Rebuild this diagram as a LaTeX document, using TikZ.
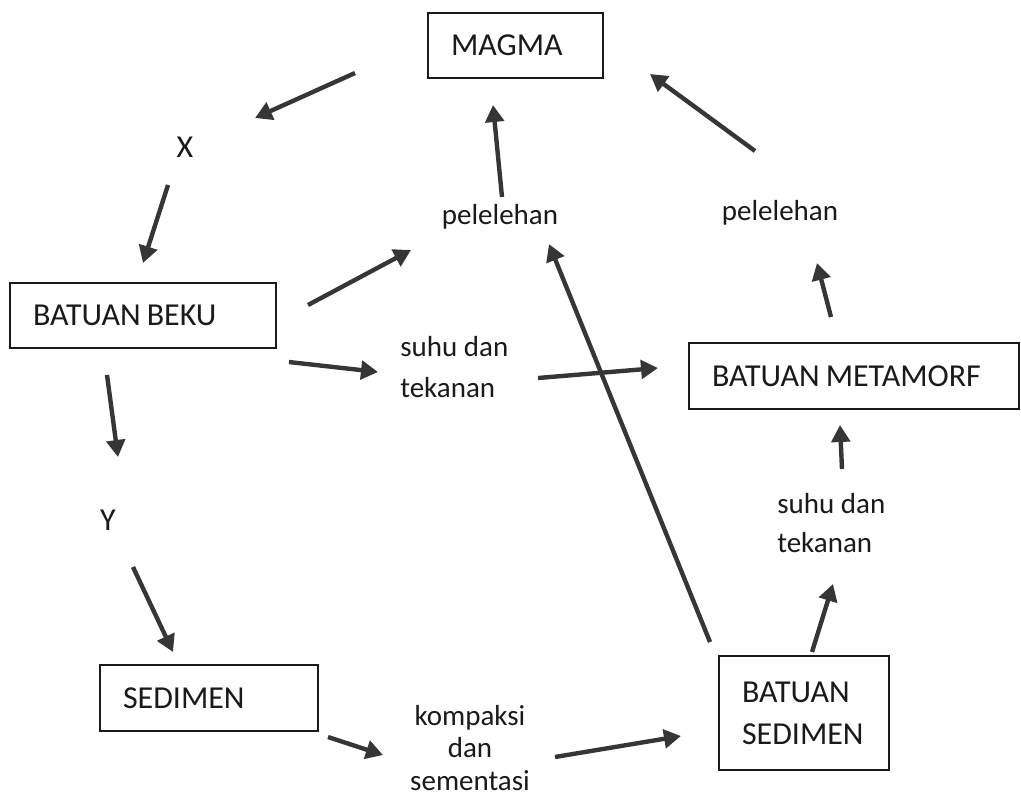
\documentclass[tikz,border=0pt]{standalone}
\usepackage{fontspec}
\setmainfont{Carlito}
\usepackage{xcolor}
\usepackage{tikz}
\usetikzlibrary{arrows.meta}

\definecolor{inkblack}{HTML}{1A1A1A}
\definecolor{arrowgray}{HTML}{363636}

\tikzset{
  box/.style={draw=inkblack,line width=1.1pt,text=inkblack,font=\fontsize{18.2}{23.8}\selectfont,align=left,inner xsep=0.46cm,inner ysep=0pt},
  lbl/.style={text=inkblack,inner sep=0pt},
  arr/.style={-{Triangle[length=0.34cm,width=0.37cm]},line width=2.5pt,arrowgray},
}
\newcommand{\gap}{\hspace{0.19em}}

\begin{document}
\begin{tikzpicture}[x=0.02cm,y=-0.02cm]
\useasboundingbox (0,0) rectangle (1021,799);
\fill[white] (0,0) rectangle (1021,799);

% Boxes
\node[box,minimum width=3.5cm,minimum height=1.3cm,text width=2.58cm] (magma) at (515.5,45.5) {MAGMA};
\node[box,minimum width=5.32cm,minimum height=1.3cm,text width=4.4cm] (beku) at (143,315.5) {BATUAN\gap BEKU};
\node[box,minimum width=6.6cm,minimum height=1.32cm,text width=5.68cm] (metamorf) at (854,376) {BATUAN\gap METAMORF};
\node[box,minimum width=4.36cm,minimum height=1.32cm,text width=3.44cm] (sedimen) at (209,698) {SEDIMEN};
\node[box,minimum width=3.4cm,minimum height=2.28cm,text width=2.48cm] (batsed) at (804,713) {BATUAN\\SEDIMEN};

% Labels
\node[lbl,font=\fontsize{18.2}{23.8}\selectfont] (x) at (185,147) {X};
\node[lbl,font=\fontsize{18.2}{23.8}\selectfont] (y) at (108,520) {Y};
\node[lbl,font=\fontsize{16.5}{20}\selectfont,anchor=base] (pelmid) at (500,224) {pelelehan};
\node[lbl,font=\fontsize{16.5}{20}\selectfont,anchor=base] (pelright) at (780,220) {pelelehan};
\node[lbl,font=\fontsize{16.5}{23.8}\selectfont,align=left,anchor=west] (suhumid) at (400,367) {suhu dan\\tekanan};
\node[lbl,font=\fontsize{16.5}{22.7}\selectfont,align=left,anchor=west] (suhuright) at (777,523) {suhu dan\\tekanan};
\node[lbl,font=\fontsize{16.5}{18.7}\selectfont,align=center] (kompaksi) at (470,748) {kompaksi\\dan\\sementasi};

% Arrow ends
\coordinate (magma-x) at (355,73);      \coordinate (x-in) at (255,118);
\coordinate (x-out) at (168,185);       \coordinate (beku-in) at (143,263);
\coordinate (beku-y) at (107,375);      \coordinate (y-in) at (118,457);
\coordinate (y-out) at (133,567);       \coordinate (sedimen-in) at (173,652);
\coordinate (sedimen-out) at (328,737); \coordinate (kompaksi-in) at (383,755);
\coordinate (kompaksi-out) at (555,757); \coordinate (batsed-in) at (681,736);
\coordinate (beku-pel) at (308,305);    \coordinate (pelmid-in) at (411,250);
\coordinate (pelmid-out) at (502,197);  \coordinate (magma-in1) at (493,105);
\coordinate (beku-suhu) at (289,362);   \coordinate (suhumid-in) at (378,372);
\coordinate (suhumid-out) at (538,378); \coordinate (metamorf-in1) at (658,368);
\coordinate (batsed-mag) at (710,642);  \coordinate (magma-in2) at (549,244);
\coordinate (batsed-suhu) at (812,652); \coordinate (suhuright-in) at (833,584);
\coordinate (suhuright-out) at (842,469); \coordinate (metamorf-in2) at (840,425);
\coordinate (metamorf-out) at (831,317); \coordinate (pelright-in) at (817,263);
\coordinate (pelright-out) at (755,151); \coordinate (magma-in3) at (650,74);

% Arrows
\draw[arr] (magma-x) -- (x-in);
\draw[arr] (x-out) -- (beku-in);
\draw[arr] (beku-y) -- (y-in);
\draw[arr] (y-out) -- (sedimen-in);
\draw[arr] (sedimen-out) -- (kompaksi-in);
\draw[arr] (kompaksi-out) -- (batsed-in);
\draw[arr] (beku-pel) -- (pelmid-in);
\draw[arr] (pelmid-out) -- (magma-in1);
\draw[arr] (beku-suhu) -- (suhumid-in);
\draw[arr] (suhumid-out) -- (metamorf-in1);
\draw[arr] (batsed-mag) -- (magma-in2);
\draw[arr] (batsed-suhu) -- (suhuright-in);
\draw[arr] (suhuright-out) -- (metamorf-in2);
\draw[arr] (metamorf-out) -- (pelright-in);
\draw[arr] (pelright-out) -- (magma-in3);
\end{tikzpicture}
\end{document}
